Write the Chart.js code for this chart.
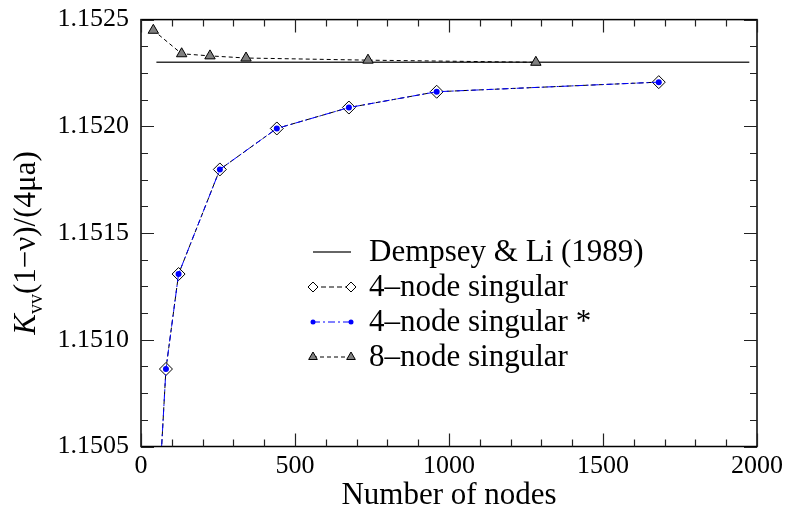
<!DOCTYPE html>
<html>
<head>
<meta charset="utf-8">
<script src="https://cdn.jsdelivr.net/npm/chart.js"></script>
<style>
  html, body { margin: 0; padding: 0; background: #fff; }
</style>
</head>
<body>
<canvas id="kvvChart" width="787" height="515"></canvas>
<script>
/* ---------- DATA ---------- */
const dempseyX = [50, 1975];
const dempseyY = [1.1523, 1.1523];

const node4X = [40, 81, 122, 256, 441, 675, 960, 1681];
const node4Y = [1.1498, 1.150863, 1.151308, 1.151798, 1.151990, 1.152088, 1.152162, 1.152207];

const node8X = [40, 132, 224, 341, 737, 1282];
const node8Y = [1.15245, 1.15234, 1.15233, 1.15232, 1.15231, 1.15230];

const legendLabels = ['Dempsey & Li (1989)', '4\u2013node singular', '4\u2013node singular *', '8\u2013node singular'];

const FONT = '"Liberation Serif", "Times New Roman", serif';

const pts = (xs, ys) => xs.map((x, i) => ({ x: x, y: ys[i] }));

/* ---------- PLUGINS ---------- */
// box around the plot with inward ticks on all four sides
const frameTicks = {
  id: 'frameTicks',
  afterDraw(chart) {
    const { ctx, chartArea: a, scales: { x, y } } = chart;
    ctx.save();
    ctx.strokeStyle = '#000';
    ctx.lineWidth = 1.5;
    ctx.strokeRect(a.left, a.top, a.right - a.left, a.bottom - a.top);
    ctx.lineWidth = 1.2;
    ctx.strokeStyle = '#222';
    ctx.beginPath();
    for (let k = 0; k <= 20; k++) {
      const px = Math.round(x.getPixelForValue(k * 100)) + 0.5;
      const len = k % 5 === 0 ? 13 : 7;
      ctx.moveTo(px, a.bottom); ctx.lineTo(px, a.bottom - len);
      ctx.moveTo(px, a.top); ctx.lineTo(px, a.top + len);
    }
    for (let k = 0; k <= 16; k++) {
      const py = Math.round(y.getPixelForValue(y.min + k * 0.000125)) + 0.5;
      const len = k % 4 === 0 ? 13 : 7;
      ctx.moveTo(a.left, py); ctx.lineTo(a.left + len, py);
      ctx.moveTo(a.right, py); ctx.lineTo(a.right - len, py);
    }
    ctx.stroke();
    ctx.restore();
  }
};

// rotated y title: K_vv(1-v)/(4ua)
const yTitle = {
  id: 'yTitle',
  afterDraw(chart) {
    const ctx = chart.ctx;
    const parts = [
      { t: 'K', font: 'italic 31px ' + FONT, dy: 0 },
      { t: 'vv', font: '20px ' + FONT, dy: 7 },
      { t: '(1\u2212\u03bd)/(4\u03bca)', font: '31px ' + FONT, dy: 0 }
    ];
    ctx.save();
    let total = 0;
    parts.forEach(p => { ctx.font = p.font; p.w = ctx.measureText(p.t).width; total += p.w; });
    ctx.translate(35, 243);
    ctx.rotate(-Math.PI / 2);
    ctx.fillStyle = '#000';
    ctx.textBaseline = 'alphabetic';
    let cx = -total / 2;
    parts.forEach(p => {
      ctx.font = p.font;
      ctx.fillText(p.t, cx, p.dy);
      cx += p.w;
    });
    ctx.restore();
  }
};

// legend inside the plot: line with a marker on each end
const innerLegend = {
  id: 'innerLegend',
  afterDraw(chart) {
    const ctx = chart.ctx;
    const x0 = 313, x1 = 351, tx = 369, top = 252, step = 35;
    ctx.save();
    chart.data.datasets.forEach((ds, i) => {
      const yy = top + i * step;
      ctx.strokeStyle = ds.borderColor;
      ctx.lineWidth = ds.borderWidth;
      ctx.setLineDash(ds.borderDash || []);
      ctx.beginPath();
      ctx.moveTo(x0, yy); ctx.lineTo(x1, yy);
      ctx.stroke();
      ctx.setLineDash([]);
      if (ds.pointRadius > 0) {
        ctx.fillStyle = ds.pointBackgroundColor;
        ctx.strokeStyle = ds.pointBorderColor;
        ctx.lineWidth = ds.pointBorderWidth;
        const opts = { pointStyle: ds.pointStyle, radius: ds.legendRadius, borderWidth: ds.pointBorderWidth, rotation: 0 };
        Chart.helpers.drawPoint(ctx, opts, x0, yy);
        Chart.helpers.drawPoint(ctx, opts, x1, yy);
      }
      ctx.fillStyle = '#000';
      ctx.font = '31px ' + FONT;
      ctx.textBaseline = 'middle';
      ctx.fillText(ds.label, tx, yy + 1);
    });
    ctx.restore();
  }
};

/* ---------- CHART ---------- */
new Chart(document.getElementById('kvvChart'), {
  type: 'line',
  data: {
    datasets: [
      {
        label: legendLabels[0],
        data: pts(dempseyX, dempseyY),
        borderColor: '#333', borderWidth: 1.6,
        pointRadius: 0, order: 3
      },
      {
        label: legendLabels[1],
        data: pts(node4X, node4Y),
        borderColor: '#000', borderWidth: 1, borderDash: [5, 3],
        pointStyle: 'rectRot', pointRadius: 6.5, legendRadius: 5,
        pointBackgroundColor: '#fff', pointBorderColor: '#000', pointBorderWidth: 1,
        order: 2
      },
      {
        label: legendLabels[2],
        data: pts(node4X, node4Y),
        borderColor: '#0000ff', borderWidth: 1, borderDash: [7, 3, 2, 3],
        pointStyle: 'circle', pointRadius: 3, legendRadius: 2.5,
        pointBackgroundColor: '#0000ff', pointBorderColor: '#0000ff', pointBorderWidth: 0,
        order: 1
      },
      {
        label: legendLabels[3],
        data: pts(node8X, node8Y),
        borderColor: '#000', borderWidth: 1, borderDash: [4, 3],
        pointStyle: 'triangle', pointRadius: 6, legendRadius: 5,
        pointBackgroundColor: '#808080', pointBorderColor: '#000', pointBorderWidth: 1,
        order: 0
      }
    ]
  },
  options: {
    responsive: false,
    animation: false,
    devicePixelRatio: 1,
    layout: { padding: { left: 0, right: 30, top: 15.5, bottom: 0 } },
    plugins: { legend: { display: false }, tooltip: { enabled: false } },
    scales: {
      x: {
        type: 'linear', min: 0, max: 2000,
        grid: { display: false }, border: { display: false },
        ticks: {
          stepSize: 500, padding: -4, color: '#000',
          font: { family: FONT, size: 26 }, maxRotation: 0,
          callback: v => String(v)
        },
        title: {
          display: true, text: 'Number of nodes', color: '#000',
          font: { family: FONT, size: 31 }, padding: { top: 0, bottom: 1 }
        },
        afterFit(s) { s.height = 68.5; }
      },
      y: {
        type: 'linear', min: 1.1505, max: 1.1525,
        grid: { display: false }, border: { display: false },
        ticks: {
          stepSize: 0.0005, padding: 4, color: '#000',
          font: { family: FONT, size: 26 },
          callback: v => v.toFixed(4)
        },
        afterFit(s) { s.width = 141; }
      }
    }
  },
  plugins: [frameTicks, yTitle, innerLegend]
});
</script>
</body>
</html>
